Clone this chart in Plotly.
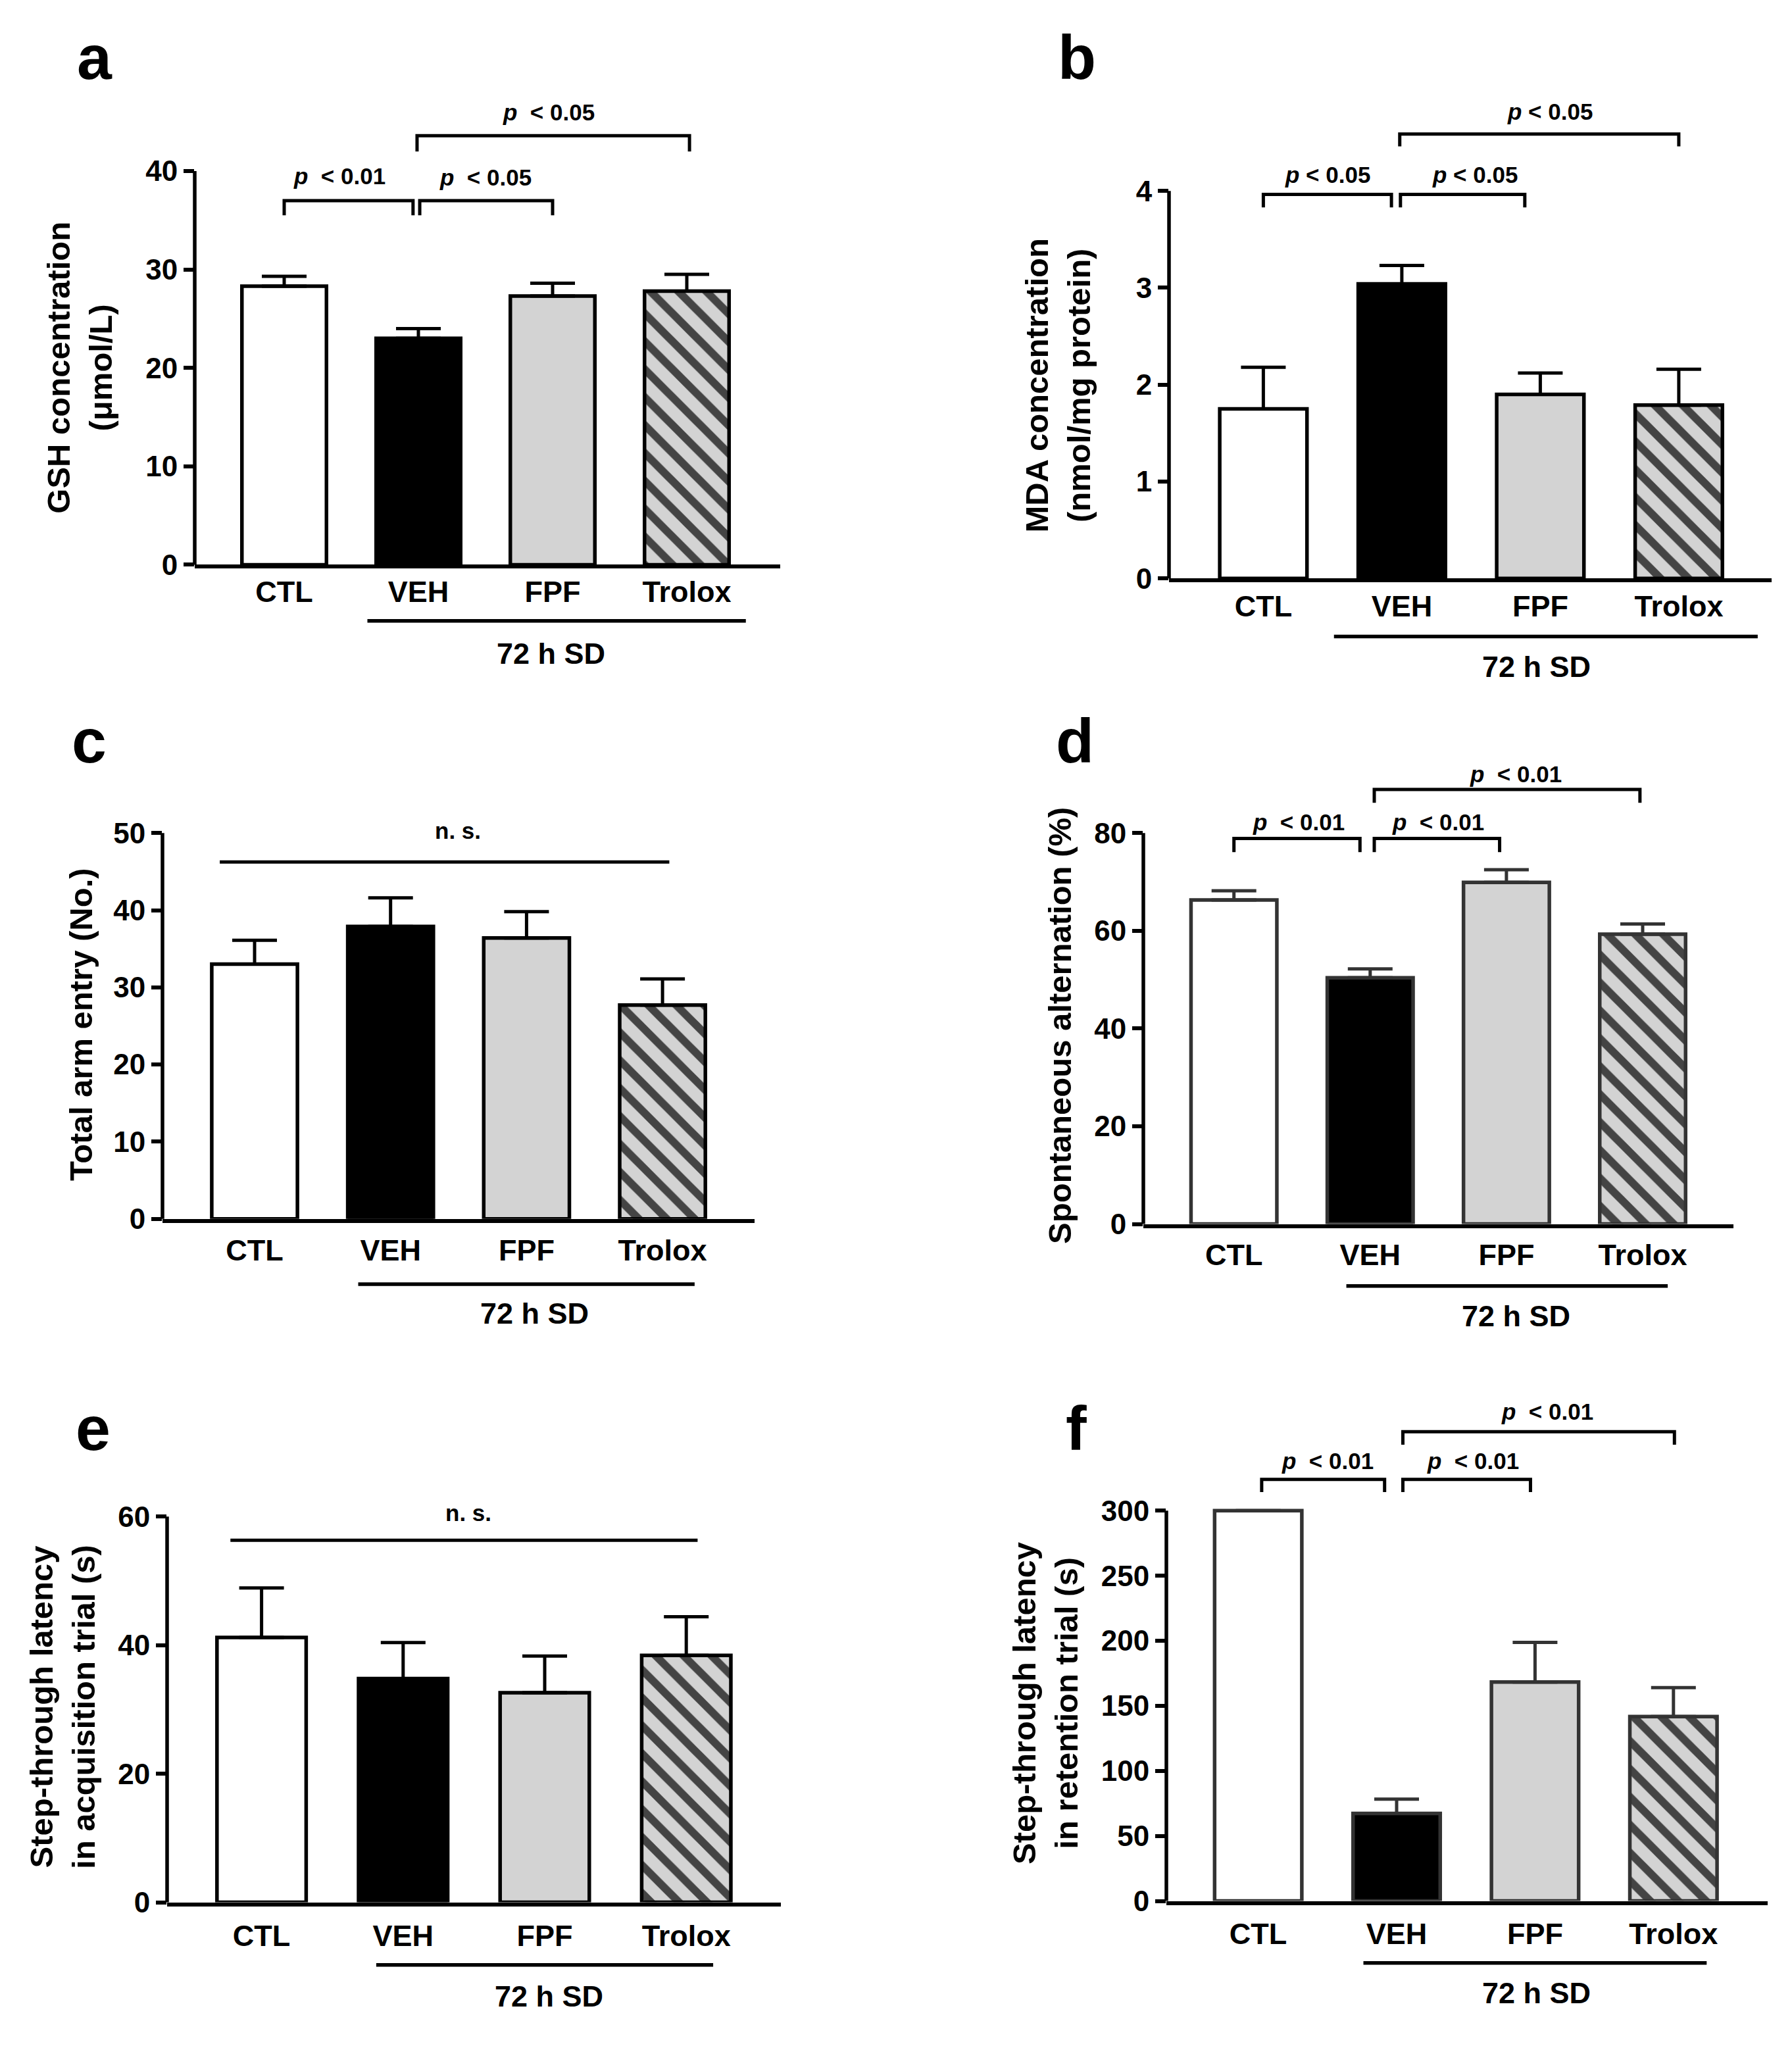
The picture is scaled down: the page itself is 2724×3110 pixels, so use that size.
import plotly.graph_objects as go

W, H = 2724, 3110
FONT = "Liberation Sans, Arial, sans-serif"

groups = ["CTL", "VEH", "FPF", "Trolox"]
bar_fill = ["#ffffff", "#000000", "#d3d3d3", "#d3d3d3"]
bar_hatch = ["", "", "", "\\"]

# mean and SEM
gsh_mean = [28.3, 23.0, 27.3, 27.8]
gsh_sem = [1.0, 1.0, 1.3, 1.7]
mda_mean = [1.75, 3.04, 1.90, 1.79]
mda_sem = [0.43, 0.19, 0.22, 0.37]
arm_mean = [33.0, 37.9, 36.4, 27.7]
arm_sem = [3.1, 3.7, 3.4, 3.4]
alt_mean = [66.3, 50.4, 69.9, 59.3]
alt_sem = [1.9, 1.8, 2.6, 2.1]
acq_mean = [41.2, 34.8, 32.6, 38.4]
acq_sem = [7.7, 5.6, 5.7, 6.0]
ret_mean = [300, 67.3, 168.3, 141.7]
ret_sem = [0, 11.0, 30.4, 22.3]

P01 = "<i>p</i>&nbsp; < 0.01"
P05 = "<i>p</i>&nbsp; < 0.05"
P05b = "<i>p</i> < 0.05"

# box = (left px, right px, px of y=0, px of top tick, top of plot px)
panels = [
    dict(letter="a", letter_at=(107, 80), mean=gsh_mean, sem=gsh_sem,
         ticks=[0, 10, 20, 30, 40], title="GSH concentration<br>(μmol/L)", title_at=(113, 555),
         box=(288, 1178, 857, 254, 125), first=424, step=204, edge="black", lab=-3,
         brackets=[(0, 0.96, 37.0, 35.5), (1.01, 2.0, 37.0, 35.5), (0.99, 3.02, 43.6, 42.0)],
         notes=[(0.41, 39.5, P01), (1.5, 39.4, P05), (1.97, 46.0, P05)],
         group=(0.62, 3.44, 943, 1.99, 993)),
    dict(letter="b", letter_at=(1598, 80), mean=mda_mean, sem=mda_sem,
         ticks=[0, 1, 2, 3, 4], title="MDA concentration<br>(nmol/mg protein)", title_at=(1600, 583),
         box=(1769, 2685, 878, 284.4, 125), first=1912.4, step=210.5, edge="black", lab=-2,
         brackets=[(0, 0.925, 3.964, 3.83), (0.99, 1.888, 3.964, 3.83), (0.985, 3.0, 4.587, 4.46)],
         notes=[(0.465, 4.17, P05b), (1.53, 4.17, P05b), (2.07, 4.82, P05b)],
         group=(0.51, 3.57, 967, 1.97, 1013)),
    dict(letter="c", letter_at=(99, 1127), mean=arm_mean, sem=arm_sem,
         ticks=[0, 10, 20, 30, 40, 50], title="Total arm entry (No.)", title_at=(115, 1561),
         box=(239, 1139, 1859, 1268, 1215), first=379, step=206.7, edge="black", lab=4,
         brackets=[(-0.256, 3.05, 46.25, None)],
         notes=[(1.495, 50.35, "n. s.")],
         group=(0.762, 3.236, 1959, 2.06, 2004)),
    dict(letter="d", letter_at=(1595, 1127), mean=alt_mean, sem=alt_sem,
         ticks=[0, 20, 40, 60, 80], title="Spontaneous alternation (%)", title_at=(1603, 1563),
         box=(1730, 2627, 1867, 1268, 1140), first=1867.7, step=207.1, edge="#333333", lab=3,
         brackets=[(0, 0.925, 78.9, 76.1), (1.03, 1.95, 78.9, 76.1), (1.03, 2.98, 88.9, 86.2)],
         notes=[(0.476, 82.2, P01), (1.5, 82.2, P01), (2.07, 92.1, P01)],
         group=(0.825, 3.184, 1962, 2.07, 2008)),
    dict(letter="e", letter_at=(105, 2180), mean=acq_mean, sem=acq_sem,
         ticks=[0, 20, 40, 60], title="Step-through latency<br>in acquisition trial (s)",
         title_at=(87, 2607),
         box=(246, 1179, 2906, 2315, 2250), first=389.6, step=215.2, edge="black", lab=7,
         brackets=[(-0.22, 3.08, 56.3, None)],
         notes=[(1.46, 60.55, "n. s.")],
         group=(0.81, 3.19, 3002, 2.03, 3050)),
    dict(letter="f", letter_at=(1610, 2180), mean=ret_mean, sem=ret_sem,
         ticks=[0, 50, 100, 150, 200, 250, 300], title="Step-through latency<br>in retention trial (s)",
         title_at=(1581, 2601),
         box=(1765, 2679, 2904, 2306, 2120), first=1904.6, step=210.4, edge="#333333", lab=6,
         brackets=[(0.025, 0.913, 324, 314.3), (1.045, 1.967, 324, 314.3), (1.045, 3.007, 360.7, 350.7)],
         notes=[(0.5, 338.3, P01), (1.55, 338.3, P01), (2.09, 376, P01)],
         group=(0.76, 3.24, 2999, 2.01, 3045)),
]

fig = go.Figure()
layout = dict(width=W, height=H, margin=dict(l=0, r=0, t=0, b=0),
              paper_bgcolor="white", plot_bgcolor="white", showlegend=False,
              font=dict(family=FONT, color="black"))
shapes, notes = [], []

for n, pn in enumerate(panels, start=1):
    sfx = "" if n == 1 else str(n)
    xa, ya = "x" + sfx, "y" + sfx
    x0, x1, y0, ytk, top = pn["box"]
    r0 = (x0 - pn["first"]) / pn["step"]
    r1 = (x1 - pn["first"]) / pn["step"]
    ymax = pn["ticks"][-1]
    ytop = ymax * (y0 - top) / (y0 - ytk)

    fig.add_trace(go.Bar(
        x=list(range(len(groups))), y=pn["mean"], width=0.63, xaxis=xa, yaxis=ya,
        marker=dict(color=bar_fill, line=dict(color=pn["edge"], width=5.5),
                    pattern=dict(shape=bar_hatch, fgcolor="#000000", bgcolor="#d3d3d3",
                                 fgopacity=1, size=30, solidity=0.4)),
        error_y=dict(type="data", array=pn["sem"], arrayminus=[0] * len(groups),
                     symmetric=False, thickness=5, width=34, color=pn["edge"]),
        hoverinfo="skip"))

    for xb0, xb1, yb, yleg in pn["brackets"]:
        if yleg is None:
            bx, by = [xb0, xb1], [yb, yb]
        else:
            bx, by = [xb0, xb0, xb1, xb1], [yleg, yb, yb, yleg]
        fig.add_trace(go.Scatter(x=bx, y=by, mode="lines", xaxis=xa, yaxis=ya,
                                 line=dict(color="black", width=5), hoverinfo="skip"))

    for tx, ty, txt in pn["notes"]:
        notes.append(dict(x=tx, y=ty, xref=xa, yref=ya, text=f"<b>{txt}</b>", showarrow=False,
                          xanchor="center", yanchor="middle",
                          font=dict(size=35, family=FONT, color="black")))

    layout["xaxis" + sfx] = dict(
        domain=[x0 / W, x1 / W], range=[r0, r1], anchor=ya,
        showline=True, linecolor="black", linewidth=5.5, ticks="",
        tickvals=list(range(len(groups))), ticktext=groups,
        tickfont=dict(size=45, family=FONT, color="black", weight="bold"),
        ticklabelstandoff=pn["lab"], showgrid=False, zeroline=False)
    layout["yaxis" + sfx] = dict(
        domain=[1 - y0 / H, 1 - top / H], range=[0, ytop], anchor=xa,
        showline=False, ticks="outside", ticklen=16, tickwidth=5.5, tickcolor="black",
        tickvals=pn["ticks"], tickfont=dict(size=44, family=FONT, color="black", weight="bold"),
        showgrid=False, zeroline=False)

    # y axis line only up to the last tick
    shapes.append(dict(type="line", xref=xa + " domain", yref=ya + " domain",
                       x0=0, x1=0, y0=0, y1=ymax / ytop, line=dict(color="black", width=5.5)))

    # "72 h SD" group line under VEH/FPF/Trolox
    g0, g1, gy, gtx, gty = pn["group"]
    shapes.append(dict(type="line", xref=xa + " domain", yref="paper",
                       x0=(g0 - r0) / (r1 - r0), x1=(g1 - r0) / (r1 - r0),
                       y0=1 - gy / H, y1=1 - gy / H, line=dict(color="black", width=5.5)))
    notes.append(dict(x=gtx, y=1 - gty / H, xref=xa, yref="paper", text="<b>72 h SD</b>",
                      xanchor="center", yanchor="middle", showarrow=False,
                      font=dict(size=45, family=FONT, color="black")))

    tx, ty = pn["title_at"]
    notes.append(dict(x=tx / W, y=1 - ty / H, xref="paper", yref="paper", textangle=-90,
                      xanchor="center", yanchor="middle",
                      text=f"<b>{pn['title']}</b>", showarrow=False,
                      font=dict(size=49, family=FONT, color="black")))

    lx, ly = pn["letter_at"]
    notes.append(dict(x=lx / W, y=1 - ly / H, xref="paper", yref="paper", xanchor="left",
                      yanchor="middle", text=f"<b>{pn['letter']}</b>", showarrow=False,
                      font=dict(size=95, family=FONT, color="black")))

layout["shapes"] = shapes
layout["annotations"] = notes
fig.update_layout(**layout)
fig.write_html("out.html")
